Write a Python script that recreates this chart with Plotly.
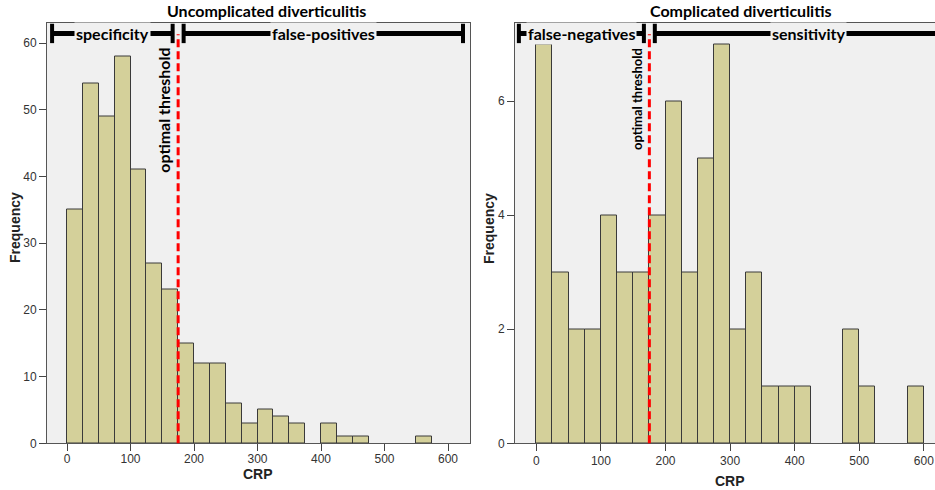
import plotly.graph_objects as go

# ---- data ----
bin_left = [0, 25, 50, 75, 100, 125, 150, 175, 200, 225, 250, 275,
            300, 325, 350, 375, 400, 425, 450, 475, 500, 525, 550, 575]
bin_width = 25
uncomplicated_counts = [35, 54, 49, 58, 41, 27, 23, 15, 12, 12, 6, 3,
                        5, 4, 3, 0, 3, 1, 1, 0, 0, 0, 1, 0]
complicated_counts = [7, 3, 2, 2, 4, 3, 3, 4, 6, 3, 5, 7,
                      2, 3, 1, 1, 1, 0, 0, 2, 1, 0, 0, 1]
threshold = 175
x_ticks = [0, 100, 200, 300, 400, 500, 600]
y_ticks_left = [0, 10, 20, 30, 40, 50, 60]
y_ticks_right = [0, 2, 4, 6]
titles = ["Uncomplicated diverticulitis", "Complicated diverticulitis"]
left_labels = ["specificity", "false-positives"]
right_labels = ["false-negatives", "sensitivity"]

W, H = 935, 490
BAR_FILL = "#D4D09A"
BAR_LINE = "#3a3a3a"
PLOT_BG = "#F0F0F0"
FRAME = "#555555"
TICK_FONT = dict(family="Liberation Sans, Arial", size=12, color="#333333")
AX_TITLE_FONT = dict(family="Liberation Sans, Arial", size=14, color="#222222")
LABEL_FONT_FAMILY = "Lato, Open Sans"

centers = [b + bin_width / 2 for b in bin_left]

def clean(vals):
    return [v if v > 0 else None for v in vals]

fig = go.Figure()
fig.add_trace(go.Bar(x=centers, y=clean(uncomplicated_counts), width=bin_width,
                     marker=dict(color=BAR_FILL, line=dict(color=BAR_LINE, width=1)),
                     xaxis="x", yaxis="y", showlegend=False, hoverinfo="x+y"))
fig.add_trace(go.Bar(x=centers, y=clean(complicated_counts), width=bin_width,
                     marker=dict(color=BAR_FILL, line=dict(color=BAR_LINE, width=1)),
                     xaxis="x2", yaxis="y2", showlegend=False, hoverinfo="x+y"))

ydom = [1 - 443.3 / H, 1 - 22.5 / H]
xdom1 = [47 / W, 470 / W]
xdom2 = [515 / W, 1.0]
xr1 = [-31.5, 634.6]
xr2 = [-33, 617.2]

axis_common = dict(showgrid=False, zeroline=False, ticks="outside", ticklen=7,
                   tickcolor="#444444", tickwidth=1, tickfont=TICK_FONT,
                   showline=True, linecolor=FRAME, linewidth=1, automargin=False)

fig.update_layout(
    width=W, height=H,
    margin=dict(l=0, r=0, t=0, b=0, autoexpand=False),
    paper_bgcolor="white",
    plot_bgcolor=PLOT_BG,
    bargap=0,
    xaxis=dict(domain=xdom1, range=xr1, tickvals=x_ticks, mirror=True, anchor="y",
               ticklabelstandoff=-3, **axis_common),
    yaxis=dict(domain=ydom, range=[0, 63.1], tickvals=y_ticks_left, mirror=True,
               anchor="x", **axis_common),
    xaxis2=dict(domain=xdom2, range=xr2, tickvals=x_ticks, mirror=True, anchor="y2",
                ticklabelstandoff=-1, **axis_common),
    yaxis2=dict(domain=ydom, range=[0, 7.38], tickvals=y_ticks_right, mirror=False,
                anchor="x2", **axis_common),
)

shapes = []
annotations = []

def add_panel_decor(xref, yref, segs, labels, title, title_x, thr_font,
                    thr_shift, ytitle_x, xtitle_x, xtitle_y):
    yd = yref + " domain"
    # threshold dashed line
    shapes.append(dict(type="line", xref=xref, yref=yd, x0=threshold, x1=threshold,
                       y0=0, y1=0.972, line=dict(color="#FF0000", width=3, dash="8px,4px")))
    ybar = 0.974
    for (a, b), lab in zip(segs, labels):
        shapes.append(dict(type="line", xref=xref, yref=yd, x0=a, x1=b, y0=ybar, y1=ybar,
                           line=dict(color="black", width=5)))
        for xc in (a, b):
            shapes.append(dict(type="line", xref=xref, yref=yd, x0=xc, x1=xc,
                               y0=ybar - 0.023, y1=ybar + 0.023,
                               line=dict(color="black", width=4)))
        annotations.append(dict(xref=xref, yref=yd, x=(a + b) / 2, y=ybar,
                                text="<b>" + lab + "</b>", showarrow=False,
                                xanchor="center", yanchor="middle",
                                bgcolor=PLOT_BG, borderpad=1,
                                font=dict(family=LABEL_FONT_FAMILY, size=16, color="black")))
    # threshold text
    annotations.append(dict(xref=xref, yref=yd, x=threshold, y=0.945,
                            text="<b>optimal threshold</b>", textangle=-90,
                            showarrow=False, xanchor="right", yanchor="top",
                            xshift=thr_shift,
                            font=dict(family=LABEL_FONT_FAMILY, size=thr_font, color="black")))
    # title
    annotations.append(dict(xref="paper", yref="paper", x=title_x, y=1 - 10 / H,
                            text="<b>" + title + "</b>", showarrow=False,
                            xanchor="center", yanchor="middle",
                            font=dict(family=LABEL_FONT_FAMILY, size=16, color="black")))
    # axis titles
    annotations.append(dict(xref="paper", yref="paper", x=ytitle_x / W, y=1 - 228 / H,
                            text="<b>Frequency</b>", textangle=-90, showarrow=False,
                            xanchor="center", yanchor="middle", font=AX_TITLE_FONT))
    annotations.append(dict(xref="paper", yref="paper", x=xtitle_x / W, y=1 - xtitle_y / H,
                            text="<b>CRP</b>", showarrow=False,
                            xanchor="center", yanchor="middle", font=AX_TITLE_FONT))

gap1 = 0.013 * (xr1[1] - xr1[0])
segs1 = [(xr1[0] + 8, threshold - gap1), (threshold + gap1, xr1[1] - 11)]
gap2 = 0.013 * (xr2[1] - xr2[0])
segs2 = [(xr2[0] + 6, threshold - gap2), (threshold + gap2, 660)]

add_panel_decor("x", "y", segs1, left_labels, titles[0], 266 / W, 16, -3, 15, 258, 474)
add_panel_decor("x2", "y2", segs2, right_labels, titles[1], 741 / W, 13, -3, 489, 730, 481)

fig.update_layout(shapes=shapes, annotations=annotations)
fig.write_html("out.html")
